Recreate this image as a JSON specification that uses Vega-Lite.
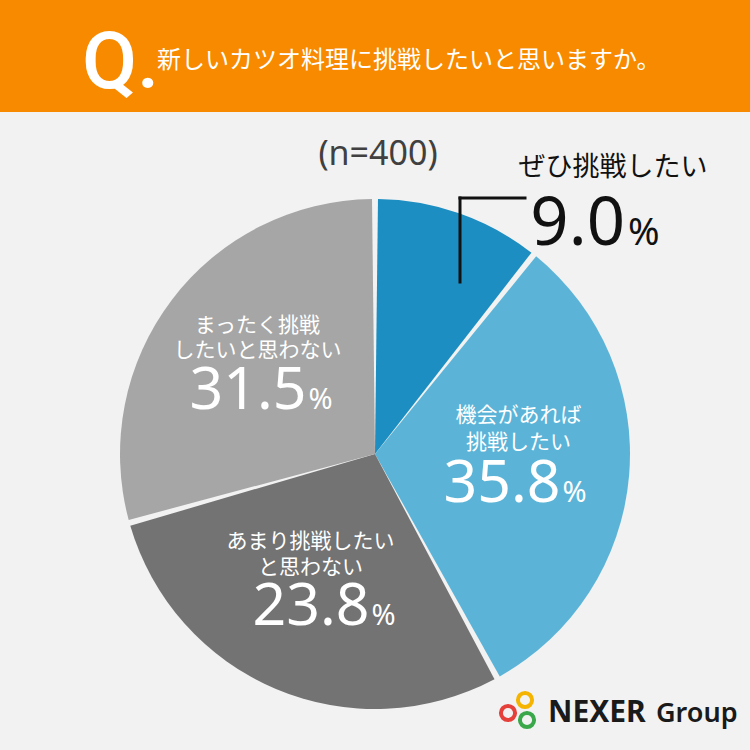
{
  "$schema": "https://vega.github.io/schema/vega-lite/v6.json",
  "background": "#f2f2f2",
  "padding": 0,
  "spacing": 0,
  "bounds": "flush",
  "config": {"view": {"stroke": null}, "text": {"font": "Noto Sans CJK JP"}},
  "datasets": {
    "survey": [
      {"answer": "ぜひ挑戦したい", "label": "ぜひ挑戦したい", "pct": 9.0, "share": 10.7, "order": 1},
      {"answer": "機会があれば挑戦したい", "label": "機会があれば\n挑戦したい", "pct": 35.8, "share": 31.35, "order": 2},
      {"answer": "あまり挑戦したいと思わない", "label": "あまり挑戦したい\nと思わない", "pct": 23.8, "share": 28.6, "order": 3},
      {"answer": "まったく挑戦したいと思わない", "label": "まったく挑戦\nしたいと思わない", "pct": 31.5, "share": 29.35, "order": 4}
    ]
  },
  "vconcat": [
    {
      "width": 750,
      "height": 112,
      "view": {"fill": "#f88a00", "stroke": null},
      "data": {"values": [{"q": "Q.", "question": "新しいカツオ料理に挑戦したいと思いますか。"}]},
      "layer": [
        {"mark": {"type": "text", "x": 82, "y": 88, "align": "left", "baseline": "alphabetic", "font": "Roboto", "fontWeight": 500, "fontSize": 80, "color": "#ffffff"},
         "encoding": {"text": {"field": "q"}}},
        {"mark": {"type": "text", "x": 157, "y": 61, "align": "left", "baseline": "middle", "fontSize": 24, "color": "#ffffff"},
         "encoding": {"text": {"field": "question"}}}
      ]
    },
    {
      "width": 750,
      "height": 638,
      "layer": [
        {
          "data": {"name": "survey"},
          "encoding": {
            "theta": {"field": "share", "type": "quantitative", "stack": true},
            "order": {"field": "order", "type": "quantitative"}
          },
          "layer": [
            {"mark": {"type": "arc", "outerRadius": 255, "padAngle": 0.0235, "yOffset": 23},
             "encoding": {"color": {"field": "answer", "type": "nominal", "legend": null,
               "scale": {"domain": ["ぜひ挑戦したい", "機会があれば挑戦したい", "あまり挑戦したいと思わない", "まったく挑戦したいと思わない"],
                         "range": ["#1c8ec1", "#5bb4d7", "#737373", "#a6a6a6"]}}}},

            {"mark": {"type": "text", "radius": 140, "yOffset": 23, "dx": 4, "dy": -50, "align": "center", "baseline": "middle", "lineBreak": "\n", "lineHeight": 27, "fontSize": 21, "color": "#ffffff"},
             "encoding": {"text": {"condition": {"test": "datum.order === 2", "field": "label"}, "value": ""}}},
            {"mark": {"type": "text", "radius": 140, "yOffset": 23, "dx": 46, "dy": 36, "align": "right", "baseline": "alphabetic", "font": "Noto Sans", "fontSize": 59, "color": "#ffffff"},
             "encoding": {"text": {"condition": {"test": "datum.order === 2", "field": "pct", "type": "quantitative", "format": ".1f"}, "value": ""}}},
            {"mark": {"type": "text", "radius": 140, "yOffset": 23, "dx": 48, "dy": 36, "align": "left", "baseline": "alphabetic", "font": "Noto Sans", "fontSize": 29, "color": "#ffffff"},
             "encoding": {"text": {"condition": {"test": "datum.order === 2", "value": "%"}, "value": ""}}},

            {"mark": {"type": "text", "radius": 140, "yOffset": 23, "dx": -10, "dy": -41, "align": "center", "baseline": "middle", "lineBreak": "\n", "lineHeight": 26, "fontSize": 21, "color": "#ffffff"},
             "encoding": {"text": {"condition": {"test": "datum.order === 3", "field": "label"}, "value": ""}}},
            {"mark": {"type": "text", "radius": 140, "yOffset": 23, "dx": 49, "dy": 42, "align": "right", "baseline": "alphabetic", "font": "Noto Sans", "fontSize": 59, "color": "#ffffff"},
             "encoding": {"text": {"condition": {"test": "datum.order === 3", "field": "pct", "type": "quantitative", "format": ".1f"}, "value": ""}}},
            {"mark": {"type": "text", "radius": 140, "yOffset": 23, "dx": 51, "dy": 42, "align": "left", "baseline": "alphabetic", "font": "Noto Sans", "fontSize": 29, "color": "#ffffff"},
             "encoding": {"text": {"condition": {"test": "datum.order === 3", "value": "%"}, "value": ""}}},

            {"mark": {"type": "text", "radius": 140, "yOffset": 23, "dx": -6, "dy": -43, "align": "center", "baseline": "middle", "lineBreak": "\n", "lineHeight": 25, "fontSize": 21, "color": "#ffffff"},
             "encoding": {"text": {"condition": {"test": "datum.order === 4", "field": "label"}, "value": ""}}},
            {"mark": {"type": "text", "radius": 140, "yOffset": 23, "dx": 43, "dy": 40, "align": "right", "baseline": "alphabetic", "font": "Noto Sans", "fontSize": 59, "color": "#ffffff"},
             "encoding": {"text": {"condition": {"test": "datum.order === 4", "field": "pct", "type": "quantitative", "format": ".1f"}, "value": ""}}},
            {"mark": {"type": "text", "radius": 140, "yOffset": 23, "dx": 45, "dy": 40, "align": "left", "baseline": "alphabetic", "font": "Noto Sans", "fontSize": 29, "color": "#ffffff"},
             "encoding": {"text": {"condition": {"test": "datum.order === 4", "value": "%"}, "value": ""}}},

            {"mark": {"type": "text", "radius": 300, "yOffset": 23, "dx": 139, "dy": -3, "align": "center", "baseline": "middle", "fontSize": 27, "color": "#111111"},
             "encoding": {"text": {"condition": {"test": "datum.order === 1", "field": "label"}, "value": ""}}},
            {"mark": {"type": "text", "radius": 300, "yOffset": 23, "dx": 151, "dy": 74, "align": "right", "baseline": "alphabetic", "font": "Noto Sans", "fontSize": 67, "color": "#111111"},
             "encoding": {"text": {"condition": {"test": "datum.order === 1", "field": "pct", "type": "quantitative", "format": ".1f"}, "value": ""}}},
            {"mark": {"type": "text", "radius": 300, "yOffset": 23, "dx": 154, "dy": 74, "align": "left", "baseline": "alphabetic", "font": "Noto Sans", "fontSize": 38, "color": "#111111"},
             "encoding": {"text": {"condition": {"test": "datum.order === 1", "value": "%"}, "value": ""}}}
          ]
        },
        {
          "data": {"values": [{"note": "(n=400)", "brand": "NEXER", "group": "Group"}]},
          "layer": [
            {"mark": {"type": "text", "x": 378, "y": 43, "align": "center", "baseline": "middle", "font": "Noto Sans", "fontSize": 34, "color": "#404040"},
             "encoding": {"text": {"field": "note"}}},
            {"mark": {"type": "rule", "strokeWidth": 3, "color": "#111111", "strokeCap": "square"},
             "encoding": {"x": {"value": 460}, "x2": {"value": 460}, "y": {"value": 86}, "y2": {"value": 170}}},
            {"mark": {"type": "rule", "strokeWidth": 3, "color": "#111111", "strokeCap": "square"},
             "encoding": {"x": {"value": 460}, "x2": {"value": 525}, "y": {"value": 86}, "y2": {"value": 86}}},
            {"mark": {"type": "point", "shape": "circle", "filled": false, "size": 200, "strokeWidth": 4, "color": "#e5413a", "opacity": 1},
             "encoding": {"x": {"value": 508}, "y": {"value": 601}}},
            {"mark": {"type": "point", "shape": "circle", "filled": false, "size": 200, "strokeWidth": 4, "color": "#f4b400", "opacity": 1},
             "encoding": {"x": {"value": 525}, "y": {"value": 588}}},
            {"mark": {"type": "point", "shape": "circle", "filled": false, "size": 200, "strokeWidth": 4, "color": "#3aa84a", "opacity": 1},
             "encoding": {"x": {"value": 527}, "y": {"value": 608}}},
            {"mark": {"type": "text", "x": 548, "y": 610, "align": "left", "baseline": "alphabetic", "font": "Noto Sans", "fontWeight": 700, "fontSize": 30, "color": "#1a1a1a"},
             "encoding": {"text": {"field": "brand"}}},
            {"mark": {"type": "text", "x": 656, "y": 610, "align": "left", "baseline": "alphabetic", "font": "Noto Sans", "fontWeight": 600, "fontSize": 27, "color": "#1a1a1a"},
             "encoding": {"text": {"field": "group"}}}
          ]
        }
      ]
    }
  ]
}
